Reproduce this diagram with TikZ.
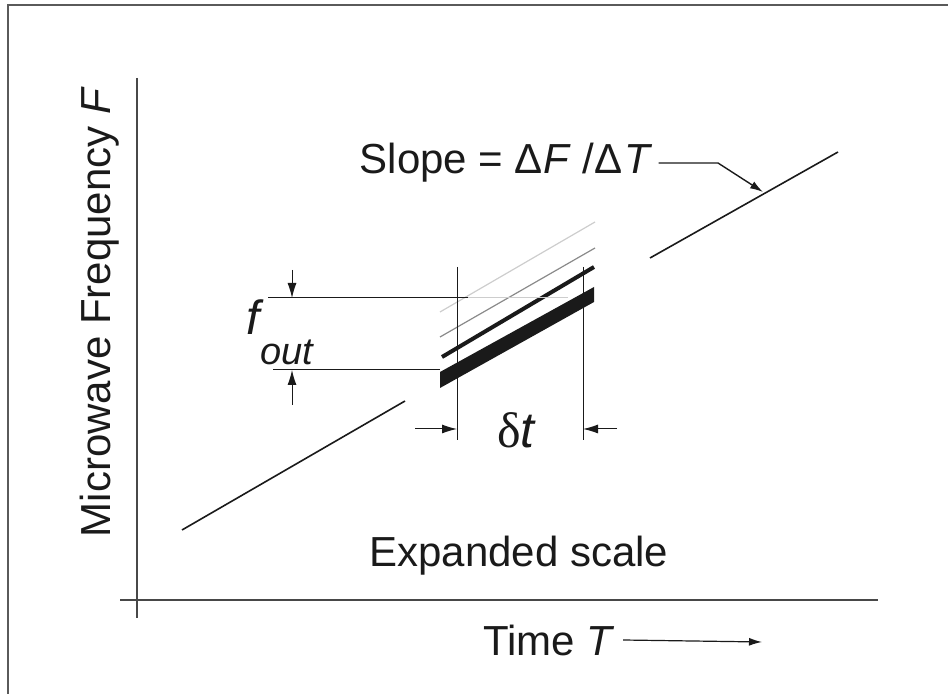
\documentclass[tikz,border=0pt]{standalone}
\usepackage{fontspec}
\setmainfont{Liberation Sans}
\newfontfamily\greekserif{Liberation Serif}
\usetikzlibrary{arrows.meta}
\definecolor{ink}{HTML}{1A1A1A}
\definecolor{axisgray}{HTML}{484848}
\definecolor{framegray}{HTML}{5A5A5A}
\definecolor{ghost}{HTML}{CDCDCD}
\definecolor{mist}{HTML}{8A8A8A}
\tikzset{lbl/.style={inner sep=0pt,font=\fontsize{21}{25}\selectfont,text=ink},axis/.style={line width=1pt,draw=axisgray},ramp/.style={line width=0.8pt,draw=ink},dim/.style={line width=0.5pt,draw=ink},dimarr/.style={dim,-{Latex[length=7.5pt,width=4.5pt]}},ptr/.style={line width=0.7pt,draw=ink,-{Latex[length=6.5pt,width=4pt]}}}

\begin{document}
\begin{tikzpicture}[x=0.5pt,y=-0.5pt]
\useasboundingbox (0,0) rectangle (948,694);
\draw[line width=1.4pt,draw=framegray] (8,694)--(8,5)--(948,5);
\draw[axis] (137,78)--(137,618);
\draw[axis] (120,600)--(878,600);
\node[lbl,rotate=90] (freq) at (100,312) {Microwave Frequency \textit{F}};
\node[lbl] (time) at (549,640) {Time \textit{T}};
\coordinate (tend) at (762,642);
\draw[ptr,line width=0.6pt] ([xshift=4pt]time.east)--(tend);
\draw[ramp] (182,530)--(405,401);
\draw[ramp] (650,258)--(838,152);
\node[lbl] (slope) at (506,163) {Slope = Δ\textit{F} /Δ\kern1pt\textit{T}};
\coordinate (bend) at (718,163);
\coordinate (hit) at (763,192);
\draw[ptr] ([xshift=3pt]slope.east)--(bend)--(hit);
\draw[line width=0.6pt,draw=ghost] (440,312)--(595,222);
\draw[line width=0.6pt,draw=mist] (440,337)--(595,248);
\draw[line width=2pt,draw=ink] (442,357)--(594,267);
\fill[ink] (440,372)--(594,287)--(594,302)--(440,388)--cycle;
\draw[dim] (268,298)--(468,298);
\draw[dim,draw=ghost] (468,298)--(568,298);
\draw[dim] (273,370)--(440,370);
\draw[dimarr] (292,270)--(292,298);
\draw[dimarr] (292,405)--(292,370);
\draw[dim] (457,267)--(457,440);
\draw[dim] (583,267)--(583,440);
\draw[dimarr] (415,429)--(457,429);
\draw[dimarr] (617,429)--(583,429);
\node[lbl] (fout) at (280,332) {\fontsize{24}{28}\selectfont\itshape f\raisebox{-15pt}{\fontsize{19}{22}\selectfont out}};
\node[lbl] (dt) at (517,430) {\fontsize{25}{30}\selectfont{\greekserif δ}\textit{t}};
\node[lbl] (expanded) at (519,556) {Expanded scale};
\end{tikzpicture}
\end{document}
